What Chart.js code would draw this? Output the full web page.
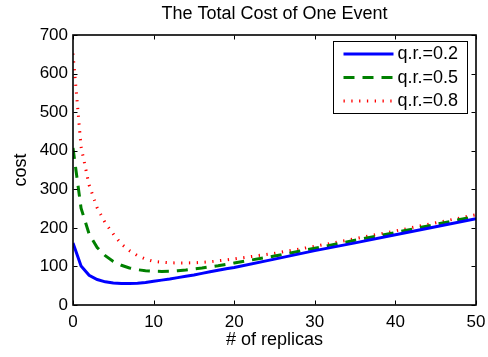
<!DOCTYPE html>
<html>
<head>
<meta charset="utf-8">
<style>
  html, body { margin: 0; padding: 0; background: #ffffff; }
  #wrap { width: 488px; height: 357px; }
</style>
<script src="https://cdn.jsdelivr.net/npm/chart.js@4/dist/chart.umd.min.js"></script>
</head>
<body>
<div id="wrap"><canvas id="cost" width="488" height="357"></canvas></div>
<script>
// Number of replicas (x positions of the sampled costs)
const replicas = [0, 1, 2, 3, 4, 5, 6, 7, 8, 9, 10, 11, 12, 13, 14, 15, 16, 17, 18, 19, 20, 25, 30, 35, 40, 45, 50];

// Total cost of one event for each query ratio
const costQr02 = [161, 101, 77, 66, 60, 57, 55.5, 55.5, 56.5, 58.5, 61.5, 64.5, 67.5, 71, 74.5, 78, 82, 86, 90, 94, 97, 119, 141, 161, 182, 203, 224];
const costQr05 = [407, 251, 184, 149, 128, 113, 103, 96, 91.5, 89, 87.5, 87, 87.5, 89, 91, 93.5, 96, 99, 102, 105.5, 109, 127, 147, 168, 188, 209, 230];
const costQr08 = [652, 410, 311, 252, 213, 184, 158, 141, 128, 119, 113, 111, 109.5, 109, 109, 109.5, 110.5, 112, 114.5, 117, 119.5, 134, 152, 172, 192, 213, 234];

const seriesLabels = ['q.r.=0.2', 'q.r.=0.5', 'q.r.=0.8'];
const xTickValues = [0, 10, 20, 30, 40, 50];
const yTickValues = [0, 100, 200, 300, 400, 500, 600, 700];

const FONT = '"Liberation Sans", Arial, Helvetica, sans-serif';

const toPoints = (ys) => replicas.map((x, i) => ({ x: x, y: ys[i] }));

// Box around the axes with inward tick marks on all four sides
const axesBox = {
  id: 'axesBox',
  afterDatasetsDraw(chart) {
    const { ctx, chartArea: a, scales } = chart;
    ctx.save();
    ctx.strokeStyle = '#000000';
    ctx.lineWidth = 1;
    const L = Math.round(a.left) + 0.5, R = Math.round(a.right) - 0.5;
    const T = Math.round(a.top) + 0.5, B = Math.round(a.bottom) - 0.5;
    const tick = 4;
    ctx.beginPath();
    xTickValues.forEach(v => {
      const px = Math.round(scales.x.getPixelForValue(v)) + 0.5;
      ctx.moveTo(px, B); ctx.lineTo(px, B - tick);
      ctx.moveTo(px, T); ctx.lineTo(px, T + tick);
    });
    yTickValues.forEach(v => {
      const py = Math.round(scales.y.getPixelForValue(v)) + 0.5;
      ctx.moveTo(L, py); ctx.lineTo(L + tick, py);
      ctx.moveTo(R, py); ctx.lineTo(R - tick, py);
    });
    ctx.stroke();
    ctx.lineWidth = 1.6;
    ctx.strokeRect(Math.round(a.left), Math.round(a.top), Math.round(a.right) - Math.round(a.left), Math.round(a.bottom) - Math.round(a.top));
    ctx.restore();
  }
};

// Legend drawn inside the upper right corner of the axes
const boxLegend = {
  id: 'boxLegend',
  afterDraw(chart) {
    const { ctx, chartArea: a } = chart;
    const x0 = Math.round(a.right - 143) + 0.5;
    const y0 = Math.round(a.top + 6) + 0.5;
    const w = 134, h = 72;
    ctx.save();
    ctx.fillStyle = '#ffffff';
    ctx.fillRect(x0, y0, w, h);
    ctx.strokeStyle = '#000000';
    ctx.lineWidth = 1;
    ctx.strokeRect(x0, y0, w, h);
    const rows = [12.5, 36, 59.5];
    chart.data.datasets.forEach((ds, i) => {
      const y = y0 + rows[i];
      ctx.strokeStyle = ds.borderColor;
      ctx.lineWidth = ds.borderWidth;
      ctx.setLineDash(ds.borderDash || []);
      ctx.beginPath();
      ctx.moveTo(x0 + 10, y);
      ctx.lineTo(x0 + 60, y);
      ctx.stroke();
      ctx.setLineDash([]);
      ctx.fillStyle = '#000000';
      ctx.font = '18px ' + FONT;
      ctx.textBaseline = 'middle';
      ctx.textAlign = 'left';
      ctx.fillText(ds.label, x0 + 64, y + 0.5);
    });
    ctx.restore();
  }
};

new Chart(document.getElementById('cost'), {
  type: 'line',
  data: {
    datasets: [
      { label: seriesLabels[0], data: toPoints(costQr02), borderColor: '#0000ff', borderWidth: 3, pointRadius: 0, tension: 0, fill: false },
      { label: seriesLabels[1], data: toPoints(costQr05), borderColor: '#008000', borderWidth: 3, borderDash: [11, 8], pointRadius: 0, tension: 0, fill: false },
      { label: seriesLabels[2], data: toPoints(costQr08), borderColor: '#ff0000', borderWidth: 3, borderDash: [1.3, 6.5], pointRadius: 0, tension: 0, fill: false }
    ]
  },
  options: {
    responsive: false,
    animation: false,
    devicePixelRatio: 1,
    layout: { padding: { left: 0, right: 12, top: 0, bottom: 0 } },
    plugins: {
      legend: { display: false },
      tooltip: { enabled: false },
      title: {
        display: true,
        text: 'The Total Cost of One Event',
        fullSize: false,
        color: '#000000',
        font: { family: FONT, size: 18, weight: 'normal' },
        padding: { top: 3, bottom: 10.4 }
      }
    },
    scales: {
      x: {
        type: 'linear',
        min: 0,
        max: 50,
        afterBuildTicks: (s) => { s.ticks = xTickValues.map(v => ({ value: v })); },
        afterFit: (s) => { s.height = 52; s.paddingLeft = 0; s.paddingRight = 0; },
        ticks: { color: '#000000', font: { family: FONT, size: 17 }, padding: 7, maxRotation: 0 },
        grid: { display: false, drawTicks: false },
        border: { display: false },
        title: { display: true, text: '# of replicas', color: '#000000', font: { family: FONT, size: 18 }, padding: { top: 0, bottom: 6.5 } }
      },
      y: {
        type: 'linear',
        min: 0,
        max: 700,
        afterBuildTicks: (s) => { s.ticks = yTickValues.map(v => ({ value: v })); },
        afterFit: (s) => { s.width = 73; s.paddingTop = 0; s.paddingBottom = 0; },
        ticks: { color: '#000000', font: { family: FONT, size: 17 }, padding: 5 },
        grid: { display: false, drawTicks: false },
        border: { display: false },
        title: { display: true, text: 'cost', color: '#000000', font: { family: FONT, size: 18 }, padding: { top: 10, bottom: 0 } }
      }
    }
  },
  plugins: [axesBox, boxLegend]
});
</script>
</body>
</html>
